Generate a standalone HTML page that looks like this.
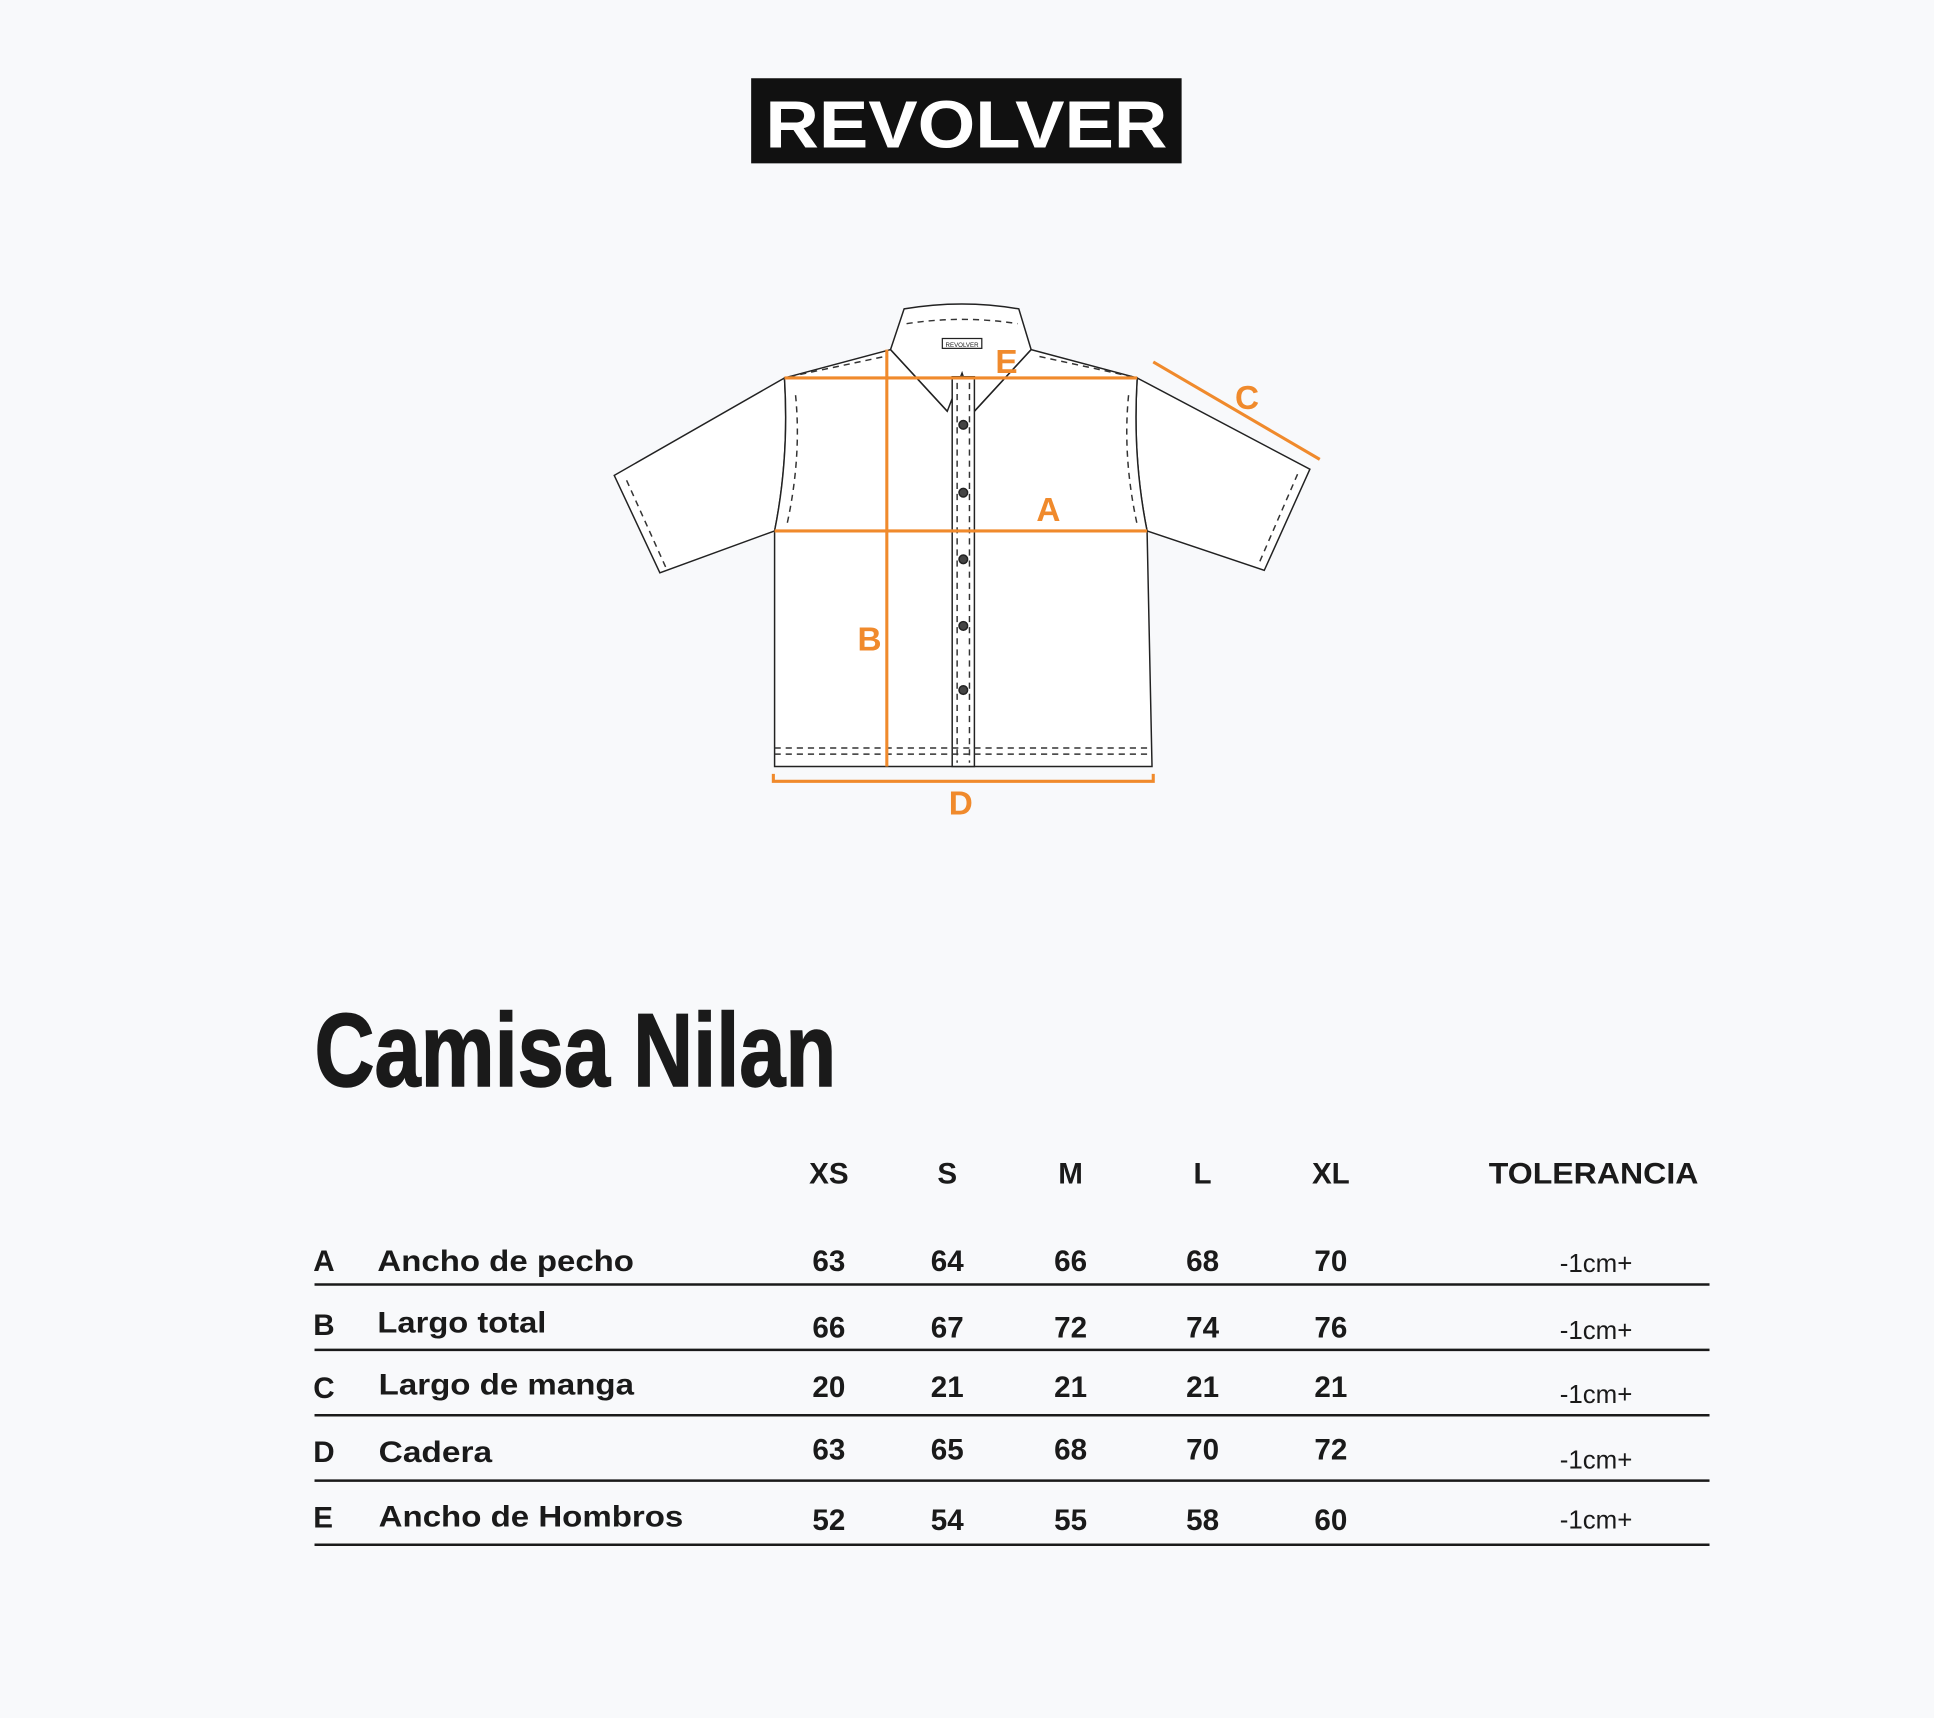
<!DOCTYPE html>
<html><head><meta charset="utf-8"><style>
html,body{margin:0;padding:0;background:#f8f9fb;}
svg{display:block;}
</style></head><body>
<svg width="1934" height="1718" viewBox="0 0 1568 1392" xmlns="http://www.w3.org/2000/svg">
<rect width="1568" height="1392" fill="#f8f9fb"/>
<!-- logo -->
<rect x="609" y="63" width="349" height="69" fill="#111"/>
<text x="783.5" y="119" text-anchor="middle" font-family="Liberation Sans, sans-serif" font-weight="bold" font-size="54" fill="#fff" textLength="326" lengthAdjust="spacingAndGlyphs">REVOLVER</text>

<!-- shirt -->
<g fill="#fff" stroke="#222" stroke-width="1.2">
<path d="M636,306 L498,385 L535,464 L628,430 Q640,370 636,306 Z"/>
<path d="M922,306 L1062,380 L1025,462 L930,430 Q918,370 922,306 Z"/>
<path d="M636,306 L722,283 L836,283 L922,306 Q918,370 930,430 L934,621 L628,621 L628,430 Q640,370 636,306 Z"/>
<path d="M722,283 L733,250 Q780,242 826,250 L836,283 L790,333 L780,302 L768,333 Z"/>
<path d="M722,283 L768,333 M836,283 L790,333"/>
<rect x="772" y="305" width="18" height="316"/>
</g>
<g fill="none" stroke="#333" stroke-width="1.2" stroke-dasharray="5,4">
<path d="M508,389 L540,460"/><path d="M1052,384 L1020,458"/>
<path d="M645,320 Q650,370 638,425"/><path d="M915,320 Q910,370 922,425"/>
<path d="M628,606 L934,606"/><path d="M628,611 L934,611"/>
<path d="M776,310 L776,618"/><path d="M786,310 L786,618"/>
<path d="M735,262 Q780,255 825,262"/>
<path d="M640,305 L720,288"/><path d="M918,305 L840,288"/>
</g>
<rect x="764" y="274" width="32" height="8" fill="#fff" stroke="#222" stroke-width="1"/>
<text x="780" y="281" text-anchor="middle" font-family="Liberation Sans, sans-serif" font-size="5" fill="#222">REVOLVER</text>
<g fill="#444" stroke="#222" stroke-width="1.2">
<circle cx="781" cy="344" r="3.5"/><circle cx="781" cy="399" r="3.5"/><circle cx="781" cy="453" r="3.5"/><circle cx="781" cy="507" r="3.5"/><circle cx="781" cy="559" r="3.5"/>
</g>
<!-- measurement lines -->
<g stroke="#f08a2c" stroke-width="2.5" fill="none">
<line x1="636" y1="306" x2="922" y2="306"/>
<line x1="719" y1="283" x2="719" y2="621"/>
<line x1="628" y1="430" x2="930" y2="430"/>
<line x1="935" y1="293" x2="1070" y2="372"/>
<path d="M627,627 L627,633 L935,633 L935,627"/>
</g>
<g fill="#f08a2c" font-family="Liberation Sans Narrow, Liberation Sans, sans-serif" font-weight="bold" font-size="27">
<text x="816" y="302" text-anchor="middle">E</text>
<text x="1011" y="331" text-anchor="middle">C</text>
<text x="850" y="422" text-anchor="middle">A</text>
<text x="705" y="527" text-anchor="middle">B</text>
<text x="779" y="660" text-anchor="middle">D</text>
</g>

<!-- title -->
<text x="255" y="880" font-family="Liberation Sans Narrow, Liberation Sans, sans-serif" font-weight="bold" font-size="84" fill="#1a1a1a" stroke="#1a1a1a" stroke-width="1.2" textLength="423" lengthAdjust="spacingAndGlyphs">Camisa Nilan</text>

<!-- table -->
<g font-family="Liberation Sans, sans-serif" font-weight="bold" font-size="24" fill="#1a1a1a" text-anchor="middle">
<text x="672" y="959">XS</text><text x="768" y="959">S</text><text x="868" y="959">M</text><text x="975" y="959">L</text><text x="1079" y="959">XL</text>
<text x="1292" y="959" textLength="170" lengthAdjust="spacingAndGlyphs">TOLERANCIA</text>
<text x="672" y="1030">63</text><text x="768" y="1030">64</text><text x="868" y="1030">66</text><text x="975" y="1030">68</text><text x="1079" y="1030">70</text>
<text x="672" y="1084">66</text><text x="768" y="1084">67</text><text x="868" y="1084">72</text><text x="975" y="1084">74</text><text x="1079" y="1084">76</text>
<text x="672" y="1132">20</text><text x="768" y="1132">21</text><text x="868" y="1132">21</text><text x="975" y="1132">21</text><text x="1079" y="1132">21</text>
<text x="672" y="1183">63</text><text x="768" y="1183">65</text><text x="868" y="1183">68</text><text x="975" y="1183">70</text><text x="1079" y="1183">72</text>
<text x="672" y="1240">52</text><text x="768" y="1240">54</text><text x="868" y="1240">55</text><text x="975" y="1240">58</text><text x="1079" y="1240">60</text>
</g>
<g font-family="Liberation Sans, sans-serif" font-weight="bold" font-size="24" fill="#1a1a1a">
<text x="254" y="1030">A</text><text x="306" y="1030" textLength="208" lengthAdjust="spacingAndGlyphs">Ancho de pecho</text>
<text x="254" y="1082">B</text><text x="306" y="1080" textLength="137" lengthAdjust="spacingAndGlyphs">Largo total</text>
<text x="254" y="1133">C</text><text x="307" y="1130" textLength="207" lengthAdjust="spacingAndGlyphs">Largo de manga</text>
<text x="254" y="1185">D</text><text x="307" y="1185" textLength="92" lengthAdjust="spacingAndGlyphs">Cadera</text>
<text x="254" y="1238">E</text><text x="307" y="1237" textLength="247" lengthAdjust="spacingAndGlyphs">Ancho de Hombros</text>
</g>
<g font-family="Liberation Sans, sans-serif" font-size="21" fill="#1a1a1a" text-anchor="middle">
<text x="1294" y="1031">-1cm+</text><text x="1294" y="1085">-1cm+</text><text x="1294" y="1137">-1cm+</text><text x="1294" y="1190">-1cm+</text><text x="1294" y="1239">-1cm+</text>
</g>
<g stroke="#1a1a1a" stroke-width="2">
<line x1="255" y1="1041" x2="1386" y2="1041"/>
<line x1="255" y1="1094" x2="1386" y2="1094"/>
<line x1="255" y1="1147" x2="1386" y2="1147"/>
<line x1="255" y1="1200" x2="1386" y2="1200"/>
<line x1="255" y1="1252" x2="1386" y2="1252"/>
</g>
</svg>
</body></html>
